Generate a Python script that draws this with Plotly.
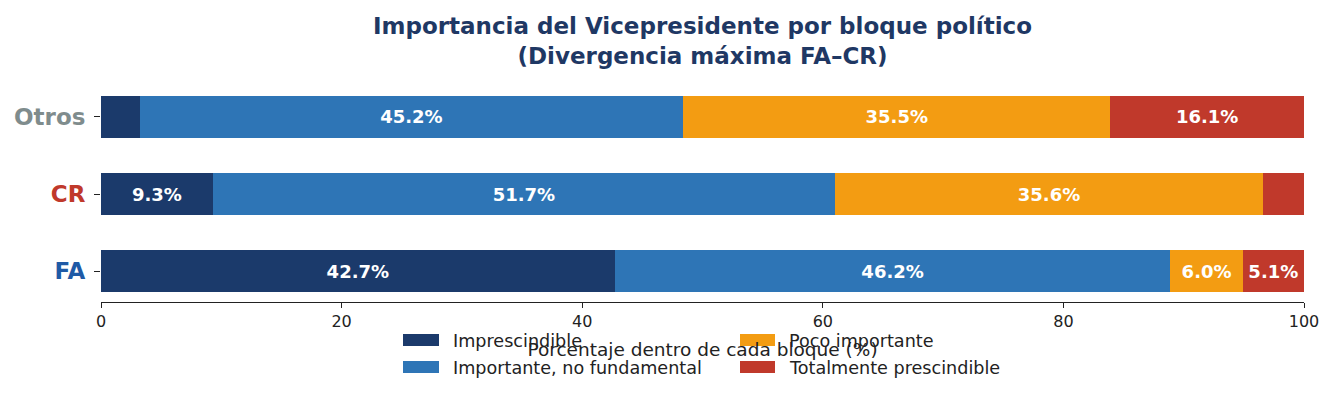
import plotly.graph_objects as go

categories = ["FA", "CR", "Otros"]
cat_colors = ["#1F5AA6", "#C0392B", "#7F8C8D"]
series_names = ["Imprescindible", "Importante, no fundamental", "Poco importante", "Totalmente prescindible"]
series_colors = ["#1B3A6B", "#2E75B6", "#F39C12", "#C0392B"]
values = {
    "Imprescindible": [42.7, 9.3, 3.2],
    "Importante, no fundamental": [46.2, 51.7, 45.2],
    "Poco importante": [6.0, 35.6, 35.5],
    "Totalmente prescindible": [5.1, 3.4, 16.1],
}
x_ticks = [0, 20, 40, 60, 80, 100]
label_min = 5.0

FONT = "DejaVu Sans"
# page body has an 8px margin; size the figure to fit the 1334x399 window
W, H = 1326, 391
L, R, T, B = 93, 30, 78, 97
PW, PH = W - L - R, H - T - B


def px_x(sx):  # screen x -> paper x
    return (sx - 8 - L) / PW


def px_y(sy):  # screen y -> paper y
    return (H - B - (sy - 8)) / PH


fig = go.Figure()
for name, col in zip(series_names, series_colors):
    vals = values[name]
    txt = [f"{v:.1f}%" if v >= label_min else "" for v in vals]
    fig.add_trace(go.Bar(
        y=categories, x=vals, orientation="h", name=name,
        marker=dict(color=col, line=dict(width=0)),
        text=txt, textposition="inside", insidetextanchor="middle",
        textangle=0, constraintext="none",
        textfont=dict(family=FONT, size=18, color="white", weight="bold"),
        showlegend=False, hoverinfo="skip",
    ))

ticktext = [f"<b><span style='color:{c}'>{cat}</span></b>" for cat, c in zip(categories, cat_colors)]

# legend drawn as swatches + text (two columns)
shapes, annots = [], []
legend_pos = [  # (rect_left, rect_right, row_center, text_left) in screen px
    (403, 439, 340, 451),
    (403, 439, 367, 451),
    (740, 775, 340, 787),
    (740, 775, 367, 787),
]
for (x0, x1, yc, tx), name, col in zip(legend_pos, series_names, series_colors):
    shapes.append(dict(type="rect", xref="paper", yref="paper",
                       x0=px_x(x0), x1=px_x(x1), y0=px_y(yc + 6), y1=px_y(yc - 6),
                       fillcolor=col, line=dict(width=0), layer="above"))
    annots.append(dict(text=name, xref="paper", yref="paper", x=px_x(tx), y=px_y(yc + 1),
                       xanchor="left", yanchor="middle", showarrow=False,
                       font=dict(family=FONT, size=17.6, color="#222")))

fig.update_layout(
    barmode="stack",
    bargap=0.45,
    width=W, height=H,
    margin=dict(l=L, r=R, t=T, b=B, autoexpand=False),
    paper_bgcolor="white", plot_bgcolor="white",
    font=dict(family=FONT, size=16, color="#222"),
    showlegend=False,
    title=dict(
        text="<b>Importancia del Vicepresidente por bloque político<br>(Divergencia máxima FA–CR)</b>",
        x=0.5, xref="paper", xanchor="center",
        y=1 - 26 / H, yref="container", yanchor="middle",
        font=dict(family=FONT, size=23, color="#1F3864"),
    ),
    xaxis=dict(
        range=[0, 100], tickvals=x_ticks, ticktext=[str(t) for t in x_ticks],
        showgrid=False, zeroline=False, showline=True, linecolor="#222", linewidth=1.3,
        ticks="outside", ticklen=5, tickcolor="#222", tickwidth=1.3,
        tickfont=dict(family=FONT, size=16, color="#222"),
        automargin=False,
        title=dict(text="Porcentaje dentro de cada bloque (%)", standoff=12,
                   font=dict(family=FONT, size=18.5, color="#222")),
    ),
    yaxis=dict(
        range=[-0.4025, 2.4025], tickvals=categories, ticktext=ticktext,
        showgrid=False, zeroline=False, showline=False,
        ticks="outside", ticklen=6, tickcolor="#222", tickwidth=1.3,
        ticklabelstandoff=4, automargin=False,
        tickfont=dict(family=FONT, size=23),
    ),
    shapes=shapes,
    annotations=annots,
)

fig.write_html("out.html")
